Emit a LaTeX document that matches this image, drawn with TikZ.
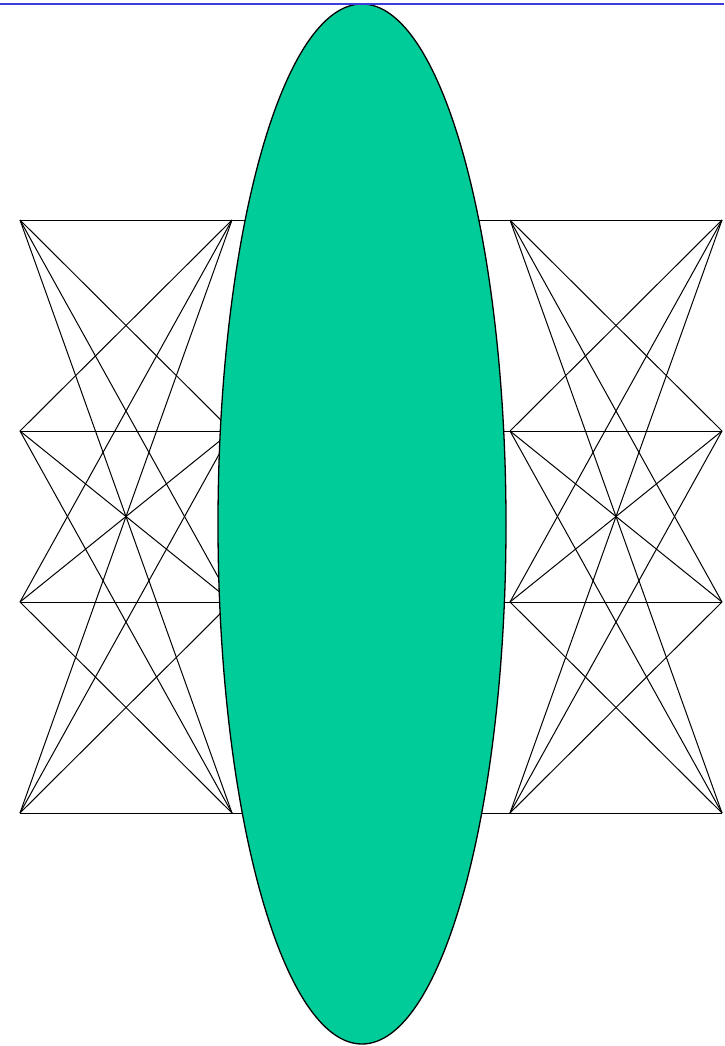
\documentclass[tikz,border=0pt]{standalone}
\usepackage{xcolor}
\usetikzlibrary{shapes.geometric}
\definecolor{lensgreen}{RGB}{0,204,153}
\definecolor{topblue}{RGB}{60,60,220}
\tikzset{
  wire/.style={draw=black, line width=1pt},
  lens/.style={ellipse, draw=black, line width=1.3pt, fill=lensgreen,
               inner sep=0pt, minimum width=288pt, minimum height=1040pt},
  rule/.style={draw=topblue, line width=1.2pt},
}
\begin{document}
\begin{tikzpicture}[x=1pt,y=-1pt]
\useasboundingbox (0,0) rectangle (724,1046);
% columns of the two meshes
\coordinate (a1) at (20,220);  \coordinate (b1) at (232,220);
\coordinate (a2) at (20,431);  \coordinate (b2) at (232,431);
\coordinate (a3) at (20,602);  \coordinate (b3) at (232,602);
\coordinate (a4) at (20,813);  \coordinate (b4) at (232,813);
\coordinate (c1) at (510,220); \coordinate (d1) at (722,220);
\coordinate (c2) at (510,431); \coordinate (d2) at (722,431);
\coordinate (c3) at (510,602); \coordinate (d3) at (722,602);
\coordinate (c4) at (510,813); \coordinate (d4) at (722,813);
\foreach \i in {1,...,4}{
  \foreach \j in {1,...,4}{
    \draw[wire] (a\i) -- (b\j);
    \draw[wire] (c\i) -- (d\j);
  }
  \draw[wire] (b\i) -- (c\i);
}
\node[lens] (lens) at (362,524) {};
\coordinate (t0) at (0,4);
\coordinate (t1) at (724,4);
\draw[rule] (t0) -- (t1);
\end{tikzpicture}
\end{document}
